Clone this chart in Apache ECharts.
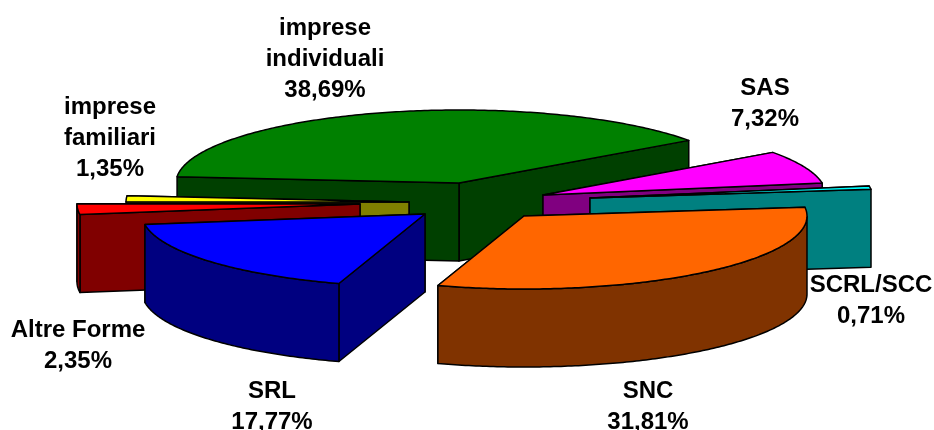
<!DOCTYPE html>
<html><head><meta charset="utf-8">
<script src="https://cdn.jsdelivr.net/npm/echarts@6/dist/echarts.min.js"></script>
<style>html,body{margin:0;padding:0;background:#fff}#c{width:934px;height:430px}</style></head>
<body><div id="c"></div>
<script>
var categories=["imprese individuali","SAS","SCRL/SCC","SNC","SRL","Altre Forme","imprese familiari"];
var percentLabels=["38,69%","7,32%","0,71%","31,81%","17,77%","2,35%","1,35%"];
var shares=[38.69,7.32,0.71,31.81,17.77,2.35,1.35];
var topColors=["#008000","#ff00ff","#00ffff","#ff6600","#0000ff","#ff0000","#ffff00"];
var wallColors=["#004000","#800080","#008080","#803300","#000080","#800000","#808000"];
var apexes=[[459,183],[543,195],[590,198],[524,216],[425,214],[360,204],[409,202]];
var labelLines=[["imprese","individuali"],["SAS"],["SCRL/SCC"],["SNC"],["SRL"],["Altre Forme"],["imprese","familiari"]];
var labelAnchors=[[325,13],[765,73],[871,270],[648,376],[272,376],[78,315],[110,92]];
var startDeg=175,RX=283,RY=73,H=78;
function build(i){
  var before=0;for(var k=0;k<i;k++)before+=shares[k];
  var a0=(startDeg-before*3.6)*Math.PI/180,a1=(startDeg-(before+shares[i])*3.6)*Math.PI/180;
  var c=apexes[i],pts=[],front=[],n=Math.max(4,Math.round(shares[i]*5));
  for(var j=0;j<=n;j++){
    var a=a0+(a1-a0)*j/n,q=[c[0]+RX*Math.cos(a),c[1]-RY*Math.sin(a)];
    pts.push(q);
    if(Math.sin(a)<=0.002)front.push(q);
  }
  return {c:c,pts:pts,front:front,rightSide:Math.cos((a0+a1)/2)>0};
}
function poly(points,fill){return {type:'polygon',shape:{points:points},style:{fill:fill,stroke:'#000',lineWidth:1.5,lineJoin:'round'}};}
function renderItem(params,api){
  var i=api.value(0),g=build(i),ch=[],c=g.c,p=g.pts;
  function down(q){return [q[0],q[1]+H];}
  var first=p[0],last=p[p.length-1];
  var faces=g.rightSide?[first,last]:[last,first];
  faces.forEach(function(e){ch.push(poly([c,e,down(e),down(c)],wallColors[i]));});
  if(g.front.length>1){
    ch.push(poly(g.front.concat(g.front.slice().reverse().map(down)),wallColors[i]));
  }
  ch.push(poly([c].concat(p),topColors[i]));
  return {type:'group',children:ch};
}
function renderLabel(params,api){
  var i=api.value(0),lines=labelLines[i].concat([percentLabels[i]]);
  return {type:'text',style:{x:labelAnchors[i][0],y:labelAnchors[i][1],text:lines.join('\n'),fill:'#000',align:'center',verticalAlign:'top',font:'bold 24px "Liberation Sans"',lineHeight:31}};
}
var order=[0,1,2,6,5,4,3];
var chart=echarts.init(document.getElementById('c'),null,{renderer:'canvas'});
chart.setOption({animation:false,series:[
 {type:'custom',coordinateSystem:'none',renderItem:renderItem,data:order.map(function(i){return [i,shares[i]];})},
 {type:'custom',coordinateSystem:'none',renderItem:renderLabel,data:order.map(function(i){return [i];}),z:5}
]});
</script></body></html>
